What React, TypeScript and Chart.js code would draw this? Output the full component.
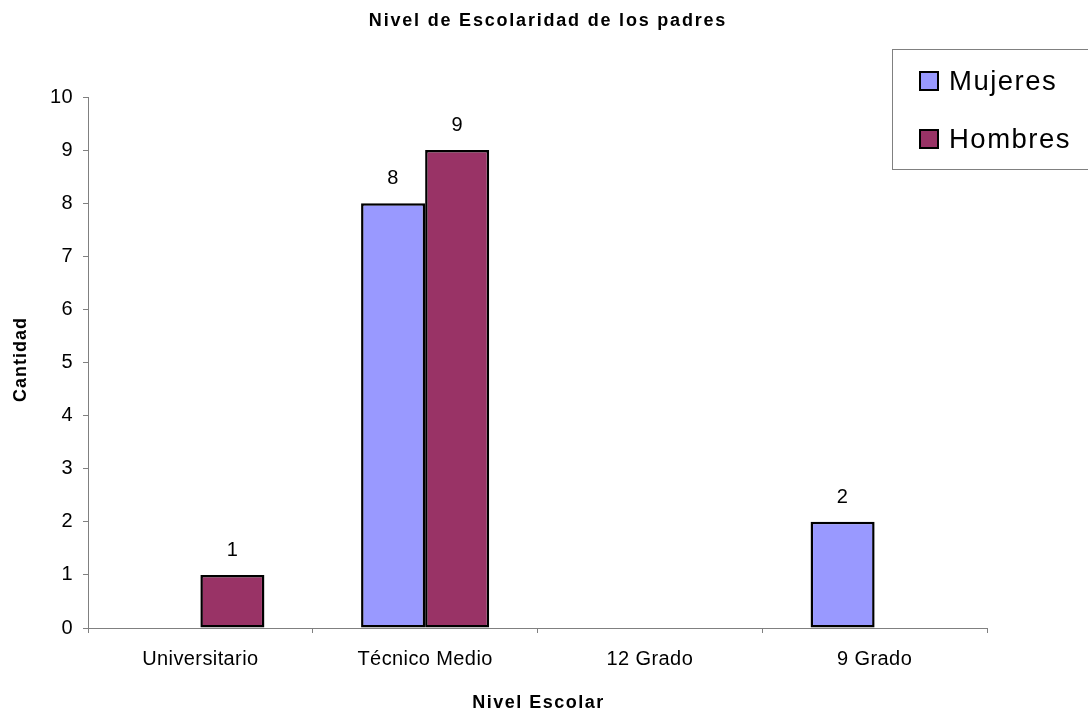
import React, { useEffect, useRef } from 'react';
import { Chart, registerables } from 'chart.js';

Chart.register(...registerables);

const chartTitle = 'Nivel de Escolaridad de los padres';
const xAxisTitle = 'Nivel Escolar';
const yAxisTitle = 'Cantidad';
const categories = ['Universitario', 'Técnico Medio', '12 Grado', '9 Grado'];
const seriesNames = ['Mujeres', 'Hombres'];
const mujeres: (number | null)[] = [null, 8, null, 2];
const hombres: (number | null)[] = [1, 9, null, null];
const seriesColors = ['#9999FF', '#993366'];
const yMin = 0;
const yMax = 10;
const yStep = 1;

const FONT = "'Liberation Sans', Arial, Helvetica, sans-serif";
const AXIS_GRAY = '#808080';
const TEXT_SPACING = '0.4px';

const decorPlugin = {
  id: 'decor',
  beforeUpdate(chart: any) {
    chart.ctx.letterSpacing = TEXT_SPACING;
  },
  beforeDraw(chart: any) {
    const ctx = chart.ctx;
    ctx.save();
    ctx.fillStyle = '#ffffff';
    ctx.fillRect(0, 0, chart.width, chart.height);
    ctx.restore();
    ctx.letterSpacing = TEXT_SPACING;
  },
  afterDatasetsDraw(chart: any) {
    const ctx = chart.ctx;
    ctx.save();
    ctx.font = `20px ${FONT}`;
    ctx.letterSpacing = TEXT_SPACING;
    ctx.fillStyle = '#000000';
    ctx.textAlign = 'center';
    ctx.textBaseline = 'alphabetic';
    chart.data.datasets.forEach((ds: any, di: number) => {
      const meta = chart.getDatasetMeta(di);
      meta.data.forEach((el: any, i: number) => {
        const v = ds.data[i];
        if (v === null || v === undefined) return;
        ctx.fillText(String(v), el.x, el.y - 19);
      });
    });
    ctx.restore();
  },
  afterDraw(chart: any) {
    const ctx = chart.ctx;
    const area = chart.chartArea;
    ctx.save();
    ctx.fillStyle = '#000000';
    // Chart title
    ctx.font = `bold 18px ${FONT}`;
    ctx.letterSpacing = '1.8px';
    ctx.textAlign = 'center';
    ctx.textBaseline = 'alphabetic';
    ctx.fillText(chartTitle, 548, 26);
    // X axis title
    ctx.letterSpacing = '1.5px';
    ctx.fillText(xAxisTitle, (area.left + area.right) / 2 + 1, 708);
    // Y axis title
    ctx.save();
    ctx.translate(21, (area.top + area.bottom) / 2 - 3);
    ctx.rotate(-Math.PI / 2);
    ctx.textBaseline = 'middle';
    ctx.letterSpacing = '1px';
    ctx.fillText(yAxisTitle, 0, 0);
    ctx.restore();

    // Legend box
    ctx.strokeStyle = AXIS_GRAY;
    ctx.lineWidth = 1;
    ctx.strokeRect(892.5, 49.5, 210, 120);
    ctx.font = `27.5px ${FONT}`;
    ctx.letterSpacing = '1.5px';
    ctx.textAlign = 'left';
    ctx.textBaseline = 'alphabetic';
    const rowsY = [81, 139];
    seriesNames.forEach((name, i) => {
      const cy = rowsY[i];
      ctx.fillStyle = seriesColors[i];
      ctx.fillRect(920, cy - 9, 18, 18);
      ctx.strokeStyle = '#000000';
      ctx.lineWidth = 2;
      ctx.strokeRect(920, cy - 9, 18, 18);
      ctx.fillStyle = '#000000';
      ctx.fillText(name, 949, cy + 8.5);
    });
    ctx.restore();
  },
};

export default function App() {
  const canvasRef = useRef<HTMLCanvasElement | null>(null);

  useEffect(() => {
    document.body.style.margin = '0';
    const canvas = canvasRef.current;
    if (!canvas) return;
    Chart.defaults.font.family = FONT;
    const makeDataset = (i: number, data: (number | null)[]) => ({
      label: seriesNames[i],
      data,
      backgroundColor: seriesColors[i],
      borderColor: '#000000',
      borderWidth: 2.5,
      borderSkipped: false,
      categoryPercentage: 0.57,
      barPercentage: 1,
    });
    const chart = new Chart(canvas, {
      type: 'bar',
      data: {
        labels: categories,
        datasets: [makeDataset(0, mujeres), makeDataset(1, hombres)],
      },
      options: {
        responsive: false,
        animation: false,
        devicePixelRatio: 1,
        layout: { padding: { top: 97, right: 101, bottom: 0, left: 0 } },
        plugins: {
          legend: { display: false },
          title: { display: false },
          tooltip: { enabled: false },
        },
        scales: {
          x: {
            type: 'category',
            offset: true,
            grid: {
              display: true,
              offset: true,
              drawOnChartArea: false,
              drawTicks: true,
              tickLength: 5,
              color: AXIS_GRAY,
            },
            border: { display: true, color: AXIS_GRAY, width: 1 },
            ticks: {
              color: '#000000',
              font: { size: 20, family: FONT },
              padding: 14,
              maxRotation: 0,
              autoSkip: false,
            },
            afterFit: (s: any) => {
              s.height = 87;
            },
          },
          y: {
            min: yMin,
            max: yMax,
            grid: {
              display: true,
              drawOnChartArea: false,
              drawTicks: true,
              tickLength: 5,
              color: AXIS_GRAY,
            },
            border: { display: true, color: AXIS_GRAY, width: 1 },
            ticks: {
              stepSize: yStep,
              color: '#000000',
              font: { size: 20, family: FONT },
              padding: 10,
            },
            afterFit: (s: any) => {
              s.width = 88;
            },
          },
        },
      },
      plugins: [decorPlugin],
    });
    return () => chart.destroy();
  }, []);

  return <canvas ref={canvasRef} width={1088} height={715} style={{ display: 'block' }} />;
}
